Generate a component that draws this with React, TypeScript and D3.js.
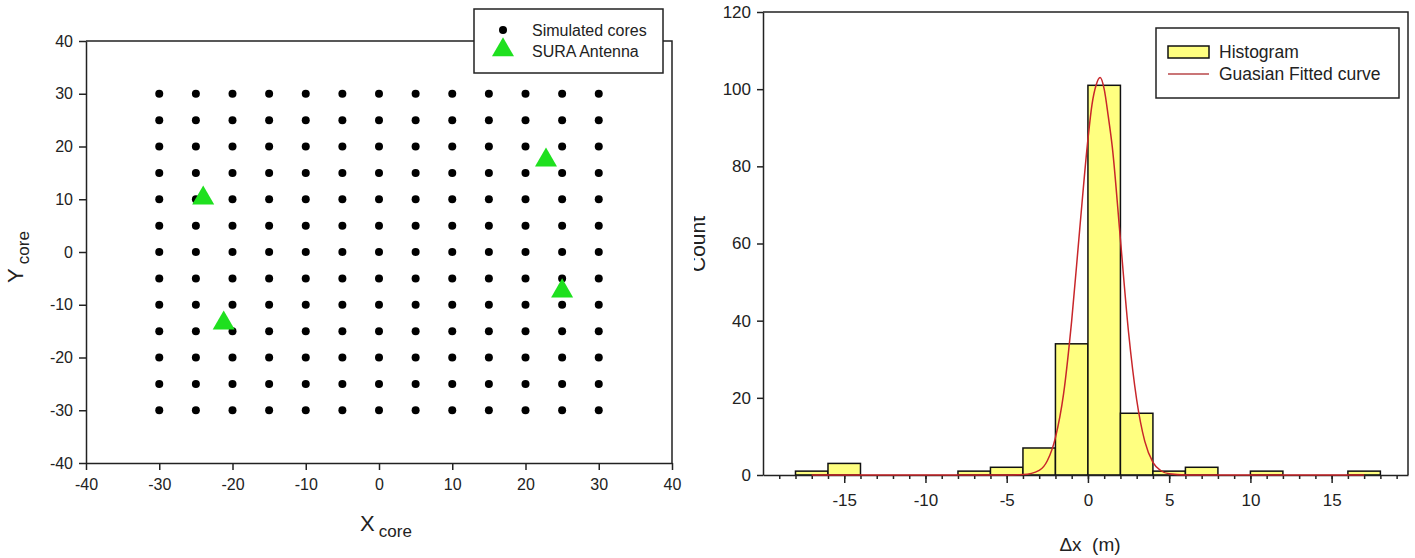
import React, { useEffect, useRef } from "react";
import * as d3 from "d3";

// left panel: simulated core grid + antenna positions
const coreX = [-30, -25, -20, -15, -10, -5, 0, 5, 10, 15, 20, 25, 30];
const coreY = [-30, -25, -20, -15, -10, -5, 0, 5, 10, 15, 20, 25, 30];
const antennaX = [-24, 22.8, 25, -21.2];
const antennaY = [10.2, 17.4, -7.4, -13.5];
const leftTicks = [-40, -30, -20, -10, 0, 10, 20, 30, 40];

// right panel: histogram of delta x (bin start, width 2)
const binStart = [-18, -16, -8, -6, -4, -2, 0, 2, 4, 6, 10, 16];
const binCount = [1, 3, 1, 2, 7, 34, 101, 16, 1, 2, 1, 1];
const binWidth = 2;
// fitted curve
const fitX = [-17, -5, -4, -3, -2.5, -2, -1.5, -1, -0.5, 0, 0.25, 0.5, 0.75, 1, 1.25, 1.5, 2, 2.5, 3, 3.5, 4, 4.5, 5, 6, 17];
const fitY = [0, 0, 0.1, 1.2, 3.7, 9.7, 21, 40, 64, 87, 96, 101, 103, 100, 93, 85, 61, 37, 19.5, 8.7, 3.3, 1.1, 0.3, 0, 0];
const rightXTicks = [-15, -10, -5, 0, 5, 10, 15];
const rightYTicks = [0, 20, 40, 60, 80, 100, 120];

const FONT = "'Liberation Sans', Arial, sans-serif";
const fmt = (d: any) => String(d); // plain hyphen minus like the original

const App = () => {
  const svgRef = useRef<SVGSVGElement>(null);

  useEffect(() => {
    const svg = d3.select(svgRef.current);
    svg.selectAll("*").remove();
    svg.attr("font-family", FONT);

    // ---------- left chart ----------
    const xL = d3.scaleLinear().domain([-40, 40]).range([86, 672]);
    const yL = d3.scaleLinear().domain([-40, 40]).range([463, 41]);

    const left = svg.append("g");

    const axB = left
      .append("g")
      .attr("transform", `translate(0,${yL(-40)})`)
      .call(d3.axisBottom(xL).tickValues(leftTicks).tickFormat(fmt).tickSize(7).tickSizeOuter(0).tickPadding(9));
    const axL = left
      .append("g")
      .attr("transform", `translate(${xL(-40)},0)`)
      .call(d3.axisLeft(yL).tickValues(leftTicks).tickFormat(fmt).tickSize(7).tickSizeOuter(0).tickPadding(6));
    [axB, axL].forEach((a) => {
      a.selectAll("text").attr("font-size", 16).attr("font-family", FONT).attr("fill", "#222");
      a.selectAll("line,path").attr("stroke", "#222").attr("stroke-width", 1.5);
    });
    left
      .append("path")
      .attr("d", `M${xL(-40)},${yL(40)}H${xL(40)}V${yL(-40)}`)
      .attr("fill", "none")
      .attr("stroke", "#222")
      .attr("stroke-width", 1.5);

    const cores = coreX.flatMap((x) => coreY.map((y) => ({ x, y })));
    left
      .selectAll(".core")
      .data(cores)
      .join("circle")
      .attr("class", "core")
      .attr("cx", (d) => xL(d.x))
      .attr("cy", (d) => yL(d.y))
      .attr("r", 4)
      .attr("fill", "#000");

    const tri = d3.symbol().type(d3.symbolTriangle).size(210);
    left
      .selectAll(".ant")
      .data(antennaX.map((x, i) => ({ x, y: antennaY[i] })))
      .join("path")
      .attr("class", "ant")
      .attr("d", tri)
      .attr("transform", (d) => `translate(${xL(d.x)},${yL(d.y)})`)
      .attr("fill", "#1fe01f");

    // legend
    const lg = left.append("g");
    lg.append("rect").attr("x", 474).attr("y", 9).attr("width", 189).attr("height", 64)
      .attr("fill", "#fff").attr("stroke", "#222").attr("stroke-width", 1.5);
    lg.append("circle").attr("cx", 503).attr("cy", 30).attr("r", 4).attr("fill", "#000");
    lg.append("path").attr("d", tri).attr("transform", "translate(503,50)").attr("fill", "#1fe01f");
    lg.append("text").attr("x", 532).attr("y", 30).attr("dominant-baseline", "central")
      .attr("font-size", 16).attr("fill", "#222").text("Simulated cores");
    lg.append("text").attr("x", 532).attr("y", 51).attr("dominant-baseline", "central")
      .attr("font-size", 16).attr("fill", "#222").text("SURA Antenna");

    // axis titles
    const xt = left.append("text").attr("x", 386).attr("y", 531).attr("text-anchor", "middle").attr("fill", "#222");
    xt.append("tspan").attr("font-size", 22).text("X");
    xt.append("tspan").attr("font-size", 17).attr("dx", 4).attr("dy", 6).text("core");
    const yt = left.append("text").attr("transform", "translate(23,257) rotate(-90)")
      .attr("text-anchor", "middle").attr("fill", "#222");
    yt.append("tspan").attr("font-size", 22).text("Y");
    yt.append("tspan").attr("font-size", 17).attr("dx", 4).attr("dy", 6).text("core");

    // ---------- right chart ----------
    const xR = d3.scaleLinear().domain([-20, 19.7]).range([763, 1408]);
    const yR = d3.scaleLinear().domain([0, 120]).range([475, 12]);
    const right = svg.append("g");

    right
      .selectAll(".bar")
      .data(binStart.map((s, i) => ({ s, c: binCount[i] })))
      .join("rect")
      .attr("class", "bar")
      .attr("x", (d) => xR(d.s))
      .attr("y", (d) => yR(d.c))
      .attr("width", (d) => xR(d.s + binWidth) - xR(d.s))
      .attr("height", (d) => yR(0) - yR(d.c))
      .attr("fill", "#ffff80")
      .attr("stroke", "#111")
      .attr("stroke-width", 1.5);

    const minor = right
      .append("g")
      .attr("transform", `translate(0,${yR(0)})`)
      .call(d3.axisBottom(xR).tickValues(d3.range(-19, 20)).tickSize(4).tickSizeOuter(0).tickFormat(() => ""));
    const major = right
      .append("g")
      .attr("transform", `translate(0,${yR(0)})`)
      .call(d3.axisBottom(xR).tickValues(rightXTicks).tickFormat(fmt).tickSize(8).tickSizeOuter(0).tickPadding(11));
    const axRL = right
      .append("g")
      .attr("transform", `translate(${xR(-20)},0)`)
      .call(d3.axisLeft(yR).tickValues(rightYTicks).tickFormat(fmt).tickSize(6).tickSizeOuter(0).tickPadding(6));
    [minor, major, axRL].forEach((a) => {
      a.selectAll("text").attr("font-size", 17).attr("font-family", FONT).attr("fill", "#222");
      a.selectAll("line,path").attr("stroke", "#222").attr("stroke-width", 1.5);
    });
    major.select("path").remove();
    right
      .append("path")
      .attr("d", `M${xR(-20)},${yR(120)}H${xR(19.7)}V${yR(0)}`)
      .attr("fill", "none")
      .attr("stroke", "#222")
      .attr("stroke-width", 1.5);

    const line = d3
      .line<number>()
      .x((d, i) => xR(fitX[i]))
      .y((d) => yR(d))
      .curve(d3.curveMonotoneX);
    right
      .append("path")
      .attr("d", line(fitY))
      .attr("fill", "none")
      .attr("stroke", "#c8262a")
      .attr("stroke-width", 1.5);

    // legend
    const rg = right.append("g");
    rg.append("rect").attr("x", 1156).attr("y", 28).attr("width", 243).attr("height", 70)
      .attr("fill", "#fff").attr("stroke", "#222").attr("stroke-width", 1.5);
    rg.append("rect").attr("x", 1168).attr("y", 46).attr("width", 41).attr("height", 12)
      .attr("fill", "#ffff80").attr("stroke", "#111").attr("stroke-width", 1.5);
    rg.append("line").attr("x1", 1168).attr("x2", 1209).attr("y1", 74).attr("y2", 74)
      .attr("stroke", "#b8474a").attr("stroke-width", 1.5);
    rg.append("text").attr("x", 1219).attr("y", 52).attr("dominant-baseline", "central")
      .attr("font-size", 17.5).attr("fill", "#222").text("Histogram");
    rg.append("text").attr("x", 1219).attr("y", 74).attr("dominant-baseline", "central")
      .attr("font-size", 17.5).attr("fill", "#222").text("Guasian Fitted curve");

    // axis titles
    right.append("text").attr("x", 1090).attr("y", 551).attr("text-anchor", "middle")
      .attr("font-size", 19).attr("fill", "#222").style("white-space", "pre").text("\u0394x  (m)");
    // the original panel edge cuts through the y title
    const defs = svg.append("defs");
    defs.append("clipPath").attr("id", "countClip").append("rect")
      .attr("x", 694).attr("y", 0).attr("width", 80).attr("height", 558);
    right.append("g").attr("clip-path", "url(#countClip)")
      .append("text").attr("transform", "translate(705,244) rotate(-90)")
      .attr("text-anchor", "middle").attr("font-size", 21).attr("fill", "#222").text("Count");
  }, []);

  return (
    <div style={{ position: "absolute", left: 0, top: 0 }}>
      <svg ref={svgRef} width={1415} height={558} style={{ display: "block", background: "#fff" }} />
    </div>
  );
};

export default App;
